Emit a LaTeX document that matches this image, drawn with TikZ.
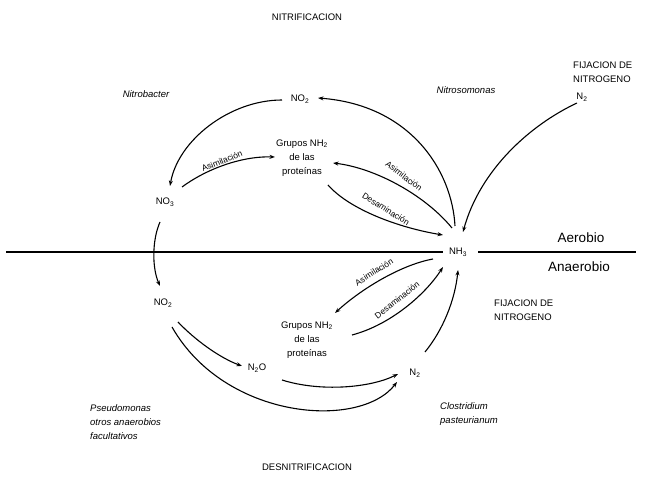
\documentclass[tikz,border=0pt]{standalone}
\usepackage{fontspec}
\setmainfont{Liberation Sans}
\usetikzlibrary{arrows.meta,calc}

\tikzset{
  lbl/.style={font=\fontsize{9.5}{14}\selectfont, inner sep=1pt},
  spp/.style={lbl, font=\fontsize{9.5}{14}\selectfont\itshape, align=left},
  zone/.style={font=\fontsize{13.5}{16}\selectfont, inner sep=1pt},
  tag/.style={font=\fontsize{8.5}{10}\selectfont, inner sep=0pt},
  conn/.style={line width=1.1pt},
  arr/.style={conn, -{Stealth[length=5.5pt,width=4pt]}}
}

\newcommand{\sub}[1]{\textsubscript{#1}}

\begin{document}
\begin{tikzpicture}[x=1pt,y=-1pt]
\useasboundingbox (0,0) rectangle (646,478);

% titles and organisms
\node[lbl] (nitri) at (307,17) {NITRIFICACION};
\node[lbl] (desni) at (307,467) {DESNITRIFICACION};
\node[spp] (nbac) at (146,94) {Nitrobacter};
\node[spp] (nsom) at (466,90) {Nitrosomonas};
\node[spp, anchor=west] (pseudo) at (89,422) {Pseudomonas\\otros anaerobios\\facultativos};
\node[spp, anchor=west] (clos) at (439,414) {Clostridium\\pasteurianum};

% nitrogen fixation labels
\node[lbl, anchor=west, align=left] (fijA) at (572,72) {FIJACION DE\\NITROGENO};
\node[lbl] (n2a) at (582,97) {N\sub{2}};
\node[lbl, anchor=west, align=left] (fijB) at (493,310) {FIJACION DE\\NITROGENO};

% compounds
\node[lbl] (no2t) at (300,99) {NO\sub{2}};
\node[lbl, align=center] (grupA) at (302,158) {Grupos NH\sub{2}\\de las\\proteínas};
\node[lbl] (no3) at (165,202) {NO\sub{3}};
\node[lbl] (nh3) at (458,252) {NH\sub{3}};
\node[lbl] (no2b) at (163,303) {NO\sub{2}};
\node[lbl, align=center] (grupB) at (307,340) {Grupos NH\sub{2}\\de las\\proteínas};
\node[lbl] (n2o) at (257,368) {N\sub{2}O};
\node[lbl] (n2b) at (415,373) {N\sub{2}};

% aerobic / anaerobic divide
\node[zone] (aer) at (581,238) {Aerobio};
\node[zone] (anaer) at (579,267) {Anaerobio};
\coordinate (lineL) at (6,252);
\coordinate (lineR) at (636,252);
\draw[conn] (lineL) -- ($(nh3)+(-15,0)$);
\draw[conn] ($(nh3)+(20,0)$) -- (lineR);

% nitrification
\draw[arr] ($(nh3)+(-3,-26)$) .. controls (452,170) and (410,105) .. ($(no2t)+(18,-1)$);
\draw[arr] ($(no2t)+(-18,1)$) .. controls (230,100) and (178,140) .. ($(no3)+(5,-16)$);

% assimilation / deamination above the divide
\draw[arr] ($(no3)+(17,-15)$) .. controls (205,170) and (240,156) .. ($(grupA)+(-27,-1)$);
\node[tag, rotate=22] (asA) at (222,161) {Asimilación};
\draw[arr] ($(nh3)+(-6,-24)$) .. controls (425,195) and (375,168) .. ($(grupA)+(31,5)$);
\node[tag, rotate=-37] (asB) at (404,176) {Asimilación};
\draw[arr] ($(grupA)+(26,27)$) .. controls (350,210) and (400,228) .. ($(nh3)+(-15,-17)$);
\node[tag, rotate=-32] (deA) at (386,209) {Desaminación};

% fixation into ammonia
\draw[arr] ($(n2a)+(-5,6)$) .. controls (530,125) and (480,170) .. ($(nh3)+(5,-20)$);
\draw[arr] ($(n2b)+(10,-21)$) .. controls (443,330) and (455,300) .. ($(nh3)+(0,18)$);

% assimilation / deamination below the divide
\draw[arr] ($(nh3)+(-25,7)$) .. controls (400,265) and (360,290) .. ($(grupB)+(28,-27)$);
\node[tag, rotate=32] (asC) at (374,272) {Asimilación};
\draw[arr] ($(grupB)+(45,-5)$) .. controls (390,325) and (425,295) .. ($(nh3)+(-15,15)$);
\node[tag, rotate=38] (deB) at (397,300) {Desaminación};

% denitrification
\draw[arr] ($(no3)+(-5,20)$) .. controls (152,240) and (152,268) .. ($(no2b)+(-3,-17)$);
\draw[arr] ($(no2b)+(15,19)$) .. controls (195,340) and (220,358) .. ($(n2o)+(-15,-2)$);
\draw[arr] ($(n2o)+(25,12)$) .. controls (320,392) and (370,388) .. ($(n2b)+(-17,1)$);
\draw[arr] ($(no2b)+(9,24)$) .. controls (225,420) and (360,430) .. ($(n2b)+(-18,9)$);
\end{tikzpicture}
\end{document}
